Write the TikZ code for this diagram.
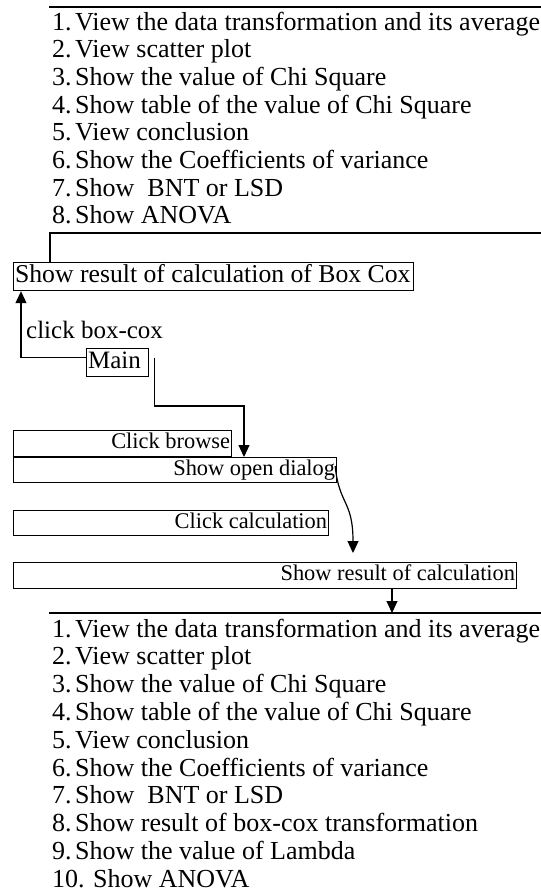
\documentclass[tikz,border=0pt]{standalone}
\usepackage{fontspec}
\setmainfont{Liberation Serif}
\usetikzlibrary{arrows.meta}
\tikzset{
  lst/.style={anchor=base west, inner sep=0pt, font=\fontsize{26}{28}\selectfont},
  bx/.style={draw, line width=1.2pt, anchor=north west, inner xsep=1.5pt, inner ysep=0pt,
    align=flush left, font=\fontsize{25}{27.7}\selectfont, text height=17pt, text depth=5.5pt},
  rbox/.style={bx, align=flush right, font=\fontsize{22.4}{26}\selectfont, text height=15.5pt, text depth=5pt},
  arr/.style={line width=1.2pt, -{Triangle[width=11pt,length=12pt]}},
  rule/.style={line width=1.2pt}
}

\begin{document}
\begin{tikzpicture}[x=1pt,y=-1pt]
			%%%%% START %%%%%
			\useasboundingbox (0,0) rectangle (541,892);
			
			% upper list
			\draw[rule] (49,7) -- (541,7);
			\node[lst] (u1) at (52,30) {1.\hspace{3.5pt}View the data transformation and its average};
			\node[lst] (u2) at (52,57.7) {2.\hspace{3.5pt}View scatter plot};
			\node[lst] (u3) at (52,85.4) {3.\hspace{3.5pt}Show the value of Chi Square};
			\node[lst] (u4) at (52,113.1) {4.\hspace{3.5pt}Show table of the value of Chi Square};
			\node[lst] (u5) at (52,140.8) {5.\hspace{3.5pt}View conclusion};
			\node[lst] (u6) at (52,168.5) {6.\hspace{3.5pt}Show the Coefficients of variance};
			\node[lst] (u7) at (52,196.2) {7.\hspace{3.5pt}Show\ \ BNT or LSD};
			\node[lst] (u8) at (52,223.9) {8.\hspace{3.5pt}Show ANOVA};
			
			\node[bx, text width=397pt, minimum height=28pt, font=\fontsize{25.7}{27.7}\selectfont] (boxcox) at (13,262) {\mbox{Show result of calculation of Box Cox}};
			\coordinate (t1) at (50,233);
			\draw[rule] (541,233) -- (t1) -- (t1 |- boxcox.north);
			
			\node[bx, text width=59pt, minimum height=28pt] (main) at (86,348) {Main};
			\node[lst, font=\fontsize{25}{27.7}\selectfont] (clk) at (26,338) {click box-cox};
			\draw[arr] ([yshift=5pt]main.west) -| ([xshift=8pt]boxcox.south west);
			
			\node[rbox, text width=215pt, minimum height=26pt] (browse) at (13,430) {Click browse};
			\node[rbox, text width=320pt, minimum height=25pt] (opendlg) at (13,457) {Show open dialog};
			\node[rbox, text width=312pt, minimum height=25pt] (calc) at (13,510) {Click calculation};
			\node[rbox, text width=500pt, minimum height=26pt] (result) at (13,562) {Show result of calculation};
			
			\coordinate (m1) at (244,406);
			\draw[arr] ([xshift=5pt,yshift=5pt]main.east) |- (m1) -- (m1 |- opendlg.north);
			
			\coordinate (c1) at (353,553);
			\draw[arr] ([xshift=-2pt,yshift=4pt]opendlg.east) .. controls (339,505) and (353,500) .. (c1);
			
			% lower list
			\coordinate (l2) at (392,613);
			\draw[rule] (49,613) -- (541,613);
			\draw[arr] (result.south -| l2) -- (l2);
			\node[lst] (d1) at (52,637) {1.\hspace{3.5pt}View the data transformation and its average};
			\node[lst] (d2) at (52,664.8) {2.\hspace{3.5pt}View scatter plot};
			\node[lst] (d3) at (52,692.6) {3.\hspace{3.5pt}Show the value of Chi Square};
			\node[lst] (d4) at (52,720.4) {4.\hspace{3.5pt}Show table of the value of Chi Square};
			\node[lst] (d5) at (52,748.2) {5.\hspace{3.5pt}View conclusion};
			\node[lst] (d6) at (52,776) {6.\hspace{3.5pt}Show the Coefficients of variance};
			\node[lst] (d7) at (52,803.8) {7.\hspace{3.5pt}Show\ \ BNT or LSD};
			\node[lst] (d8) at (52,831.6) {8.\hspace{3.5pt}Show result of box-cox transformation};
			\node[lst] (d9) at (52,859.4) {9.\hspace{3.5pt}Show the value of Lambda};
			\node[lst] (d10) at (52,887.2) {10.\hspace{8.5pt}Show ANOVA};
			
			%%%%% END %%%%%
\end{tikzpicture}
\end{document}
